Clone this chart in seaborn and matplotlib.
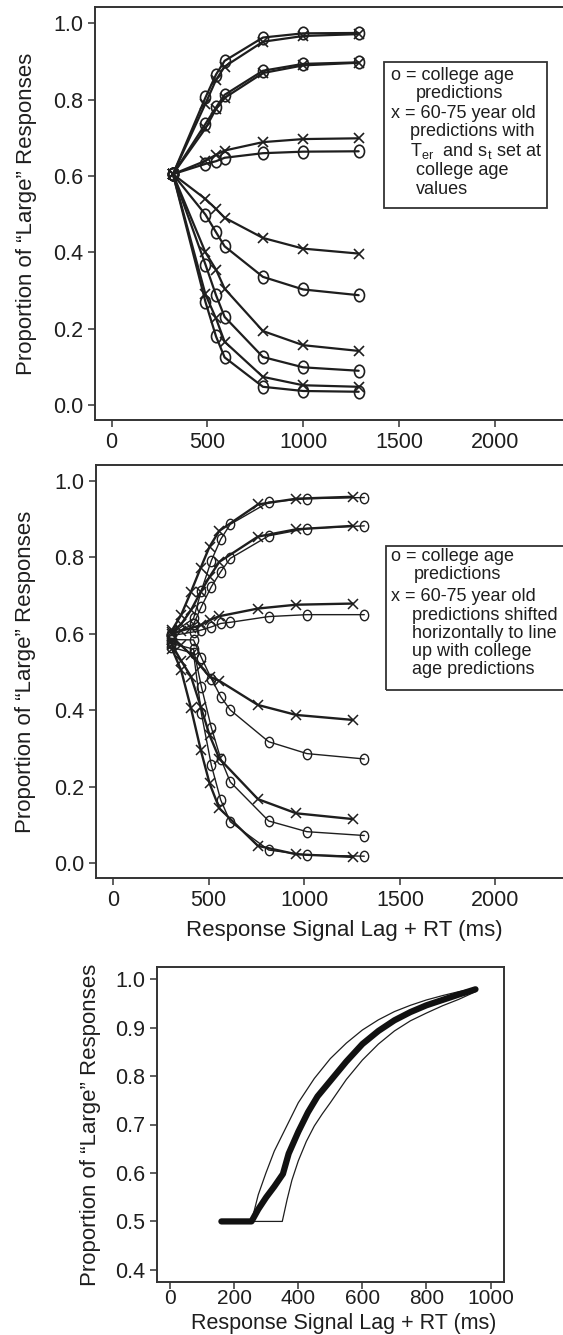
import matplotlib
matplotlib.use('Agg')
import matplotlib.pyplot as plt
import matplotlib.path as mpath
from matplotlib.patches import Rectangle
from matplotlib.transforms import Affine2D
import seaborn as sns
import pandas as pd
import numpy as np

sns.set_style('ticks')
plt.rcParams['font.family'] = ['Liberation Sans', 'DejaVu Sans']
plt.rcParams['mathtext.fontset'] = 'custom'
plt.rcParams['mathtext.rm'] = 'Liberation Sans'
plt.rcParams['mathtext.it'] = 'Liberation Sans'

INK = '#1e1e1e'
W, H = 563, 1335

conds = ['A', 'B', 'C', 'D', 'E', 'F']

# panel 1: college age vs 60-75 year olds with Ter and st at college values
p1_lags = [320, 490, 545, 590, 790, 1000, 1290]
p1_college = [
    [0.605, 0.806, 0.866, 0.902, 0.963, 0.974, 0.975],
    [0.605, 0.737, 0.780, 0.813, 0.876, 0.894, 0.898],
    [0.605, 0.632, 0.639, 0.648, 0.660, 0.664, 0.665],
    [0.605, 0.499, 0.453, 0.416, 0.336, 0.303, 0.288],
    [0.605, 0.368, 0.288, 0.231, 0.126, 0.099, 0.090],
    [0.605, 0.270, 0.180, 0.125, 0.048, 0.037, 0.035],
]
p1_old = [
    [0.605, 0.790, 0.852, 0.887, 0.952, 0.967, 0.972],
    [0.605, 0.725, 0.776, 0.805, 0.870, 0.890, 0.897],
    [0.605, 0.640, 0.656, 0.667, 0.689, 0.697, 0.699],
    [0.605, 0.540, 0.514, 0.491, 0.438, 0.410, 0.397],
    [0.605, 0.400, 0.355, 0.305, 0.194, 0.157, 0.142],
    [0.605, 0.290, 0.227, 0.166, 0.074, 0.052, 0.048],
]

# panel 2: old predictions shifted horizontally
p2_college_lags = [305, 421, 462, 514, 563, 613, 814, 1014, 1314]
p2_college = [
    [0.600, 0.640, 0.713, 0.791, 0.847, 0.886, 0.944, 0.953, 0.956],
    [0.598, 0.625, 0.671, 0.723, 0.762, 0.797, 0.856, 0.875, 0.882],
    [0.595, 0.605, 0.610, 0.618, 0.627, 0.630, 0.645, 0.650, 0.650],
    [0.585, 0.584, 0.538, 0.483, 0.436, 0.401, 0.318, 0.287, 0.273],
    [0.575, 0.560, 0.462, 0.355, 0.274, 0.213, 0.111, 0.083, 0.073],
    [0.565, 0.549, 0.392, 0.257, 0.166, 0.109, 0.035, 0.022, 0.019],
]
p2_old_lags = [309, 356, 408, 459, 505, 556, 758, 958, 1254]
p2_old = [
    [0.610, 0.649, 0.710, 0.773, 0.828, 0.869, 0.938, 0.953, 0.958],
    [0.605, 0.625, 0.662, 0.710, 0.749, 0.788, 0.854, 0.873, 0.882],
    [0.600, 0.608, 0.615, 0.623, 0.636, 0.646, 0.666, 0.676, 0.679],
    [0.585, 0.570, 0.545, 0.515, 0.488, 0.477, 0.414, 0.388, 0.375],
    [0.570, 0.530, 0.488, 0.409, 0.335, 0.274, 0.168, 0.131, 0.116],
    [0.560, 0.505, 0.405, 0.296, 0.209, 0.144, 0.046, 0.024, 0.017],
]

# panel 3: mixture illustration (thick = mixture, thin = the two components)
p3_mid_lags = [160, 254, 275, 300, 325, 352, 370, 400, 430, 460, 500, 550, 600, 650,
               700, 750, 800, 850, 900, 953]
p3_mid = [0.5, 0.5, 0.525, 0.550, 0.572, 0.598, 0.640, 0.685, 0.725, 0.758, 0.790,
          0.830, 0.866, 0.893, 0.915, 0.932, 0.946, 0.957, 0.968, 0.979]
p3_fast_lags = [254, 275, 299, 325, 355, 400, 450, 500, 550, 600, 650, 700, 750, 800,
                850, 900, 953]
p3_fast = [0.5, 0.555, 0.600, 0.645, 0.685, 0.745, 0.795, 0.836, 0.868, 0.895, 0.916,
           0.933, 0.946, 0.957, 0.966, 0.974, 0.981]
p3_slow_lags = [254, 350, 365, 380, 400, 425, 450, 475, 500, 550, 600, 650, 700, 750,
                800, 850, 900, 953]
p3_slow = [0.5, 0.5, 0.545, 0.585, 0.625, 0.665, 0.697, 0.722, 0.745, 0.793, 0.833,
           0.866, 0.893, 0.914, 0.930, 0.945, 0.958, 0.974]

legend1 = ['o = college age', 'predictions', 'x = 60-75 year old', 'predictions with',
           r'T$_{\rm er}$  and s$_{\rm t}$ set at', 'college age', 'values']
legend2 = ['o = college age', 'predictions', 'x = 60-75 year old', 'predictions shifted',
           'horizontally to line', 'up with college', 'age predictions']

ylab = 'Proportion of \u201cLarge\u201d Responses'
xlab = 'Response Signal Lag + RT (ms)'


def long_df(lags, rows):
    frames = []
    for c, vals in zip(conds, rows):
        frames.append(pd.DataFrame({'lag': lags, 'p': vals, 'cond': c}))
    return pd.concat(frames, ignore_index=True)


def rect(l, t, r, b):
    return [l / W, 1 - b / H, (r - l) / W, (b - t) / H]


oval = mpath.Path.unit_circle().transformed(Affine2D().scale(0.8, 1.0))

fig = plt.figure(figsize=(W / 100, H / 100), dpi=100)


def style_axes(ax):
    for s in ax.spines.values():
        s.set_linewidth(1.4)
        s.set_color('#333333')
    ax.tick_params(direction='out', length=5, width=1.1, color='#333333',
                   labelsize=15.5, labelcolor=INK, pad=3.5)
    ax.set_xlabel('')
    ax.set_ylabel('')


# ---- panel 1
ax1 = fig.add_axes(rect(95, 7, 563, 420))
sns.lineplot(data=long_df(p1_lags, p1_college), x='lag', y='p', units='cond',
             estimator=None, sort=False, color=INK, lw=1.6, marker=oval, ms=9,
             mfc='none', mec=INK, mew=1.2, ax=ax1)
sns.lineplot(data=long_df(p1_lags, p1_old), x='lag', y='p', units='cond',
             estimator=None, sort=False, color=INK, lw=1.6, marker='x', ms=7,
             mec=INK, mew=1.2, ax=ax1)
style_axes(ax1)
ax1.spines['right'].set_visible(False)
ax1.set_xlim(-87, 2357)
ax1.set_ylim(-0.039, 1.043)
ax1.set_xticks([0, 500, 1000, 1500, 2000])
ax1.set_yticks(np.arange(0, 1.01, 0.2))
ax1.set_yticklabels(['0.0', '0.2', '0.4', '0.6', '0.8', '1.0'])
ax1.set_ylabel(ylab, fontsize=16, color=INK)
ax1.yaxis.set_label_coords(-0.124, 0.5)

# ---- panel 2
ax2 = fig.add_axes(rect(96, 465, 563, 878))
sns.lineplot(data=long_df(p2_college_lags, p2_college), x='lag', y='p', units='cond',
             estimator=None, sort=False, color=INK, lw=1.0, marker=oval, ms=7.5,
             mfc='none', mec=INK, mew=1.0, ax=ax2)
sns.lineplot(data=long_df(p2_old_lags, p2_old), x='lag', y='p', units='cond',
             estimator=None, sort=False, color=INK, lw=1.7, marker='x', ms=7,
             mec=INK, mew=1.1, ax=ax2)
style_axes(ax2)
ax2.spines['right'].set_visible(False)
ax2.set_xlim(-89, 2353)
ax2.set_ylim(-0.038, 1.041)
ax2.set_xticks([0, 500, 1000, 1500, 2000])
ax2.set_yticks(np.arange(0, 1.01, 0.2))
ax2.set_yticklabels(['0.0', '0.2', '0.4', '0.6', '0.8', '1.0'])
ax2.set_ylabel(ylab, fontsize=16, color=INK)
ax2.yaxis.set_label_coords(-0.128, 0.5)
ax2.set_xlabel(xlab, fontsize=16, color=INK)
ax2.xaxis.set_label_coords(0.531, -0.102)

# ---- panel 3
ax3 = fig.add_axes(rect(157, 967, 504, 1282))
sns.lineplot(x=p3_fast_lags, y=p3_fast, color=INK, lw=0.9, ax=ax3)
sns.lineplot(x=p3_slow_lags, y=p3_slow, color=INK, lw=0.9, ax=ax3)
sns.lineplot(x=p3_mid_lags, y=p3_mid, color='#111111', lw=4.5,
             solid_capstyle='round', solid_joinstyle='round', ax=ax3)
style_axes(ax3)
ax3.set_xlim(-41, 1042)
ax3.set_ylim(0.375, 1.025)
ax3.set_xticks([0, 200, 400, 600, 800, 1000])
ax3.set_yticks([0.4, 0.5, 0.6, 0.7, 0.8, 0.9, 1.0])
ax3.set_yticklabels(['0.4', '0.5', '0.6', '0.7', '0.8', '0.9', '1.0'])
ax3.set_ylabel(ylab, fontsize=16, color=INK)
ax3.yaxis.set_label_coords(-0.161, 0.5)
ax3.tick_params(axis='x', pad=0, labelsize=15)
ax3.set_xlabel(xlab, fontsize=15.5, color=INK, labelpad=0)
ax3.xaxis.set_label_coords(0.539, -0.098)

# ---- legend boxes
fig.add_artist(Rectangle((384 / W, 1 - 208 / H), 163 / W, 146 / H, fill=False,
                         lw=1.3, ec='#333333', transform=fig.transFigure))
fig.add_artist(Rectangle((386 / W, 1 - 690 / H), 200 / W, 144 / H, fill=False,
                         lw=1.3, ec='#333333', transform=fig.transFigure))

y1 = [74, 92.7, 113, 130.7, 150.7, 169.3, 188.3]
x1 = [390.7, 415.8, 390.7, 410.4, 410.4, 415.8, 415.8]
for txt, xx, yy in zip(legend1, x1, y1):
    fig.text(xx / W, 1 - (yy + 5.5) / H, txt, fontsize=13, color=INK,
             ha='left', va='baseline')

y2 = [553.3, 571.7, 593.3, 612.3, 630.7, 648.3, 666.7]
x2 = [391.4, 414, 391.4, 411.5, 411.5, 411.5, 411.5]
for txt, xx, yy in zip(legend2, x2, y2):
    fig.text(xx / W, 1 - (yy + 7.5) / H, txt, fontsize=13, color=INK,
             ha='left', va='baseline')

fig.savefig('out.png', dpi=100)
